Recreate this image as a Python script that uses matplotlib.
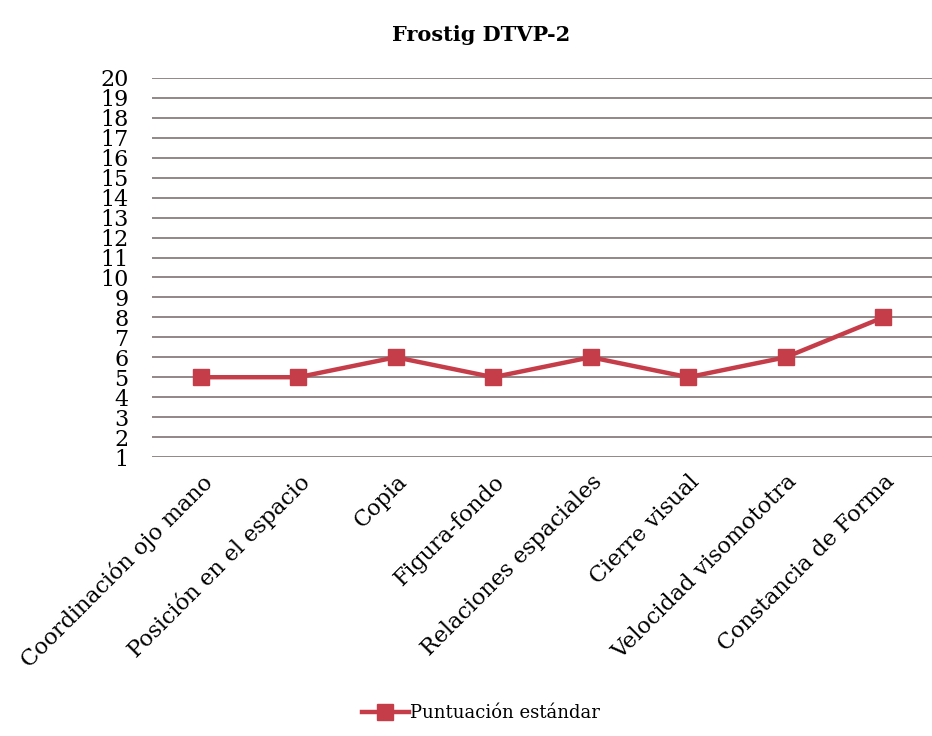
import matplotlib
matplotlib.use('Agg')
import matplotlib.pyplot as plt

# Data
categories = ['Coordinación ojo mano', 'Posición en el espacio', 'Copia', 'Figura-fondo',
              'Relaciones espaciales', 'Cierre visual', 'Velocidad visomototra',
              'Constancia de Forma']
scores = [5, 5, 6, 5, 6, 5, 6, 8]
y_ticks = list(range(1, 21))
series_label = 'Puntuación estándar'
title = 'Frostig DTVP-2'

plt.rcParams['font.family'] = ['DejaVu Serif']

fig = plt.figure(figsize=(9.32, 7.36), dpi=100)
ax = fig.add_axes([152 / 932, 279 / 736, 780 / 932, 379 / 736])

x = list(range(len(categories)))
ax.plot(x, scores, color='#c63d4a', linewidth=3.2, marker='s', markersize=12,
        markerfacecolor='#c63d4a', markeredgecolor='#c63d4a', label=series_label)

ax.set_xlim(-0.5, len(categories) - 0.5)
ax.set_ylim(1, 20)
ax.set_yticks(y_ticks)
ax.set_yticklabels([str(v) for v in y_ticks], fontsize=16)
ax.yaxis.grid(True, color='#8a7e7e', linewidth=1.3)
ax.set_axisbelow(True)
ax.tick_params(axis='both', length=0)
ax.tick_params(axis='y', pad=17)
for s in ax.spines.values():
    s.set_visible(False)

ax.set_xticks(x)
ax.set_xticklabels(categories, rotation=45, ha='right', va='top',
                   rotation_mode='anchor', fontsize=16)
ax.tick_params(axis='x', pad=10)

fig.text(0.516, 0.952, title, ha='center', va='center', fontsize=15, fontweight='bold')

fig.legend(loc='center', bbox_to_anchor=(0.516, 0.031), frameon=False, fontsize=13,
           handlelength=2.6, handletextpad=0.1)

fig.savefig('out.png', dpi=100, facecolor='white')
